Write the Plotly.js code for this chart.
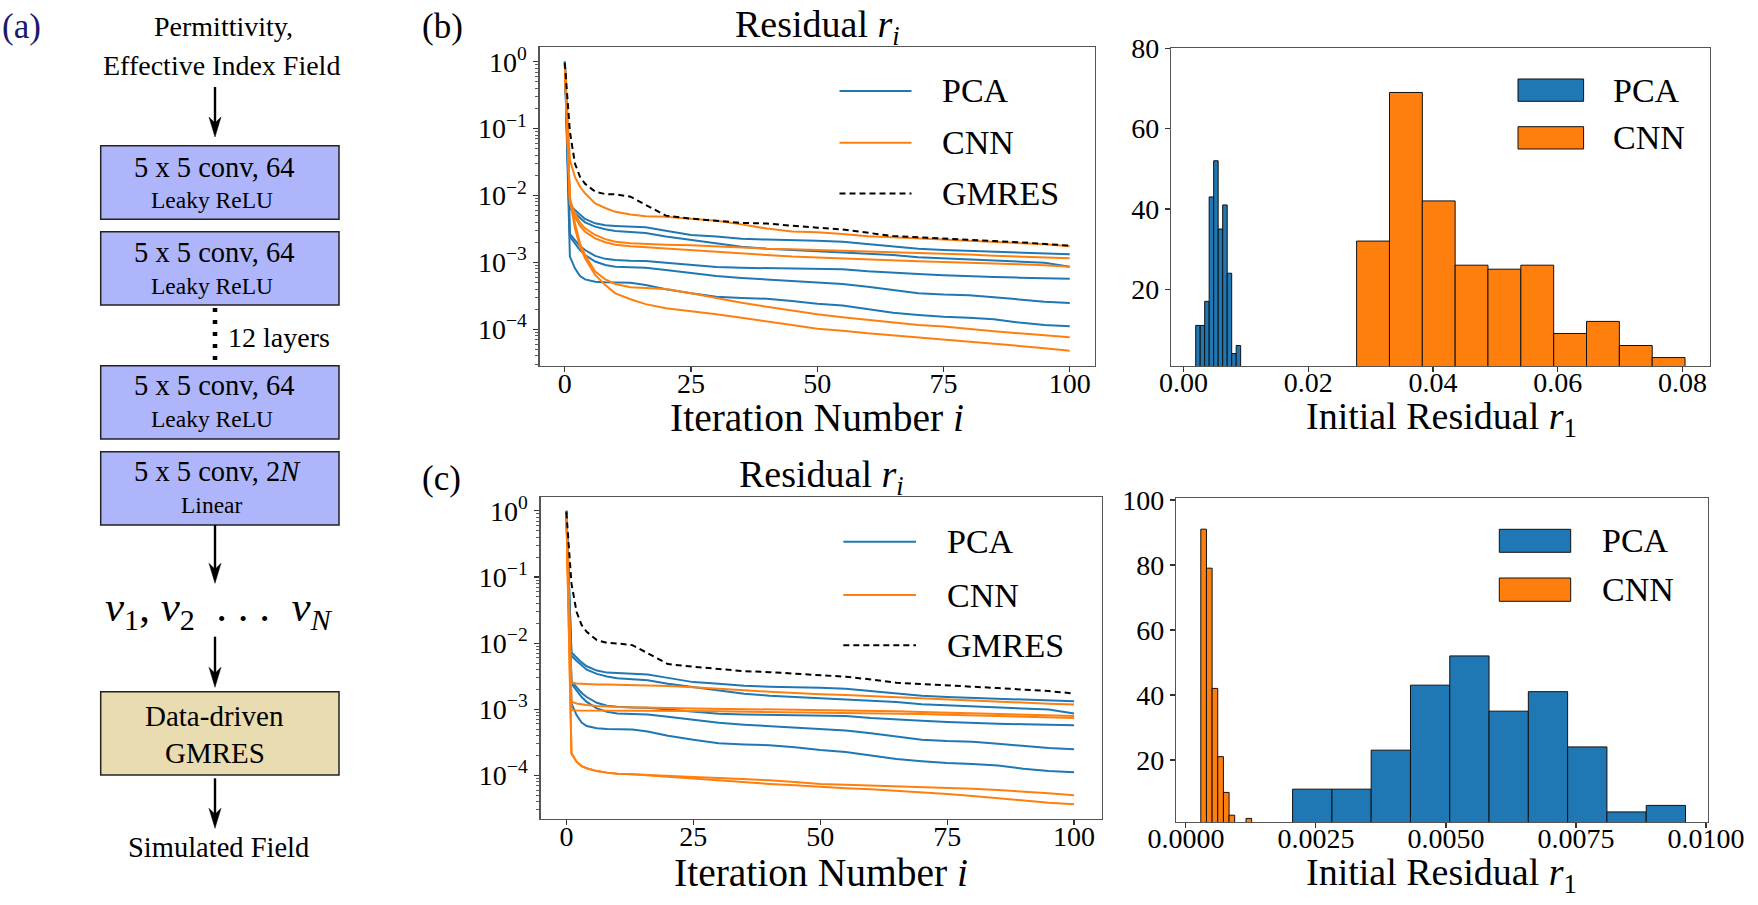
<!DOCTYPE html>
<html>
<head>
<meta charset="utf-8">
<script src="https://cdn.plot.ly/plotly-3.0.1.min.js"></script>
<style>
  html, body { margin: 0; padding: 0; background: #ffffff; }
  #fig { width: 1758px; height: 905px; }
</style>
</head>
<body>
<div id="fig"></div>
<script>
// ---------------- data ----------------
// iteration numbers at which residuals are tabulated
const iters = [0, 1, 2, 3, 4, 6, 8, 10, 13, 16, 20, 25, 30, 35, 40, 45, 50, 55, 60, 65, 70, 75, 80, 85, 90, 95, 100];

// PCA-preconditioned runs (same test samples in both rows)
const pcaRun1 = [1.0, 0.00721, 0.00607, 0.00511, 0.00446, 0.00384, 0.00358, 0.0035, 0.00342, 0.00334, 0.00298, 0.00257, 0.00243, 0.00226, 0.00219, 0.00216, 0.00211, 0.00204, 0.00188, 0.00172, 0.0016, 0.00153, 0.00148, 0.00145, 0.0014, 0.00137, 0.00132];
const pcaRun2 = [1.0, 0.00643, 0.00541, 0.00456, 0.00397, 0.00342, 0.00312, 0.00294, 0.00282, 0.00275, 0.00243, 0.00216, 0.00193, 0.00172, 0.0016, 0.00153, 0.00148, 0.00142, 0.00137, 0.00129, 0.00119, 0.00115, 0.00109, 0.00106, 0.00103, 0.000991, 0.000863];
const pcaRun3 = [1.0, 0.00266, 0.00216, 0.00176, 0.00153, 0.00125, 0.00113, 0.00109, 0.00106, 0.00105, 0.00099, 0.00092, 0.000855, 0.00083, 0.000816, 0.000805, 0.000795, 0.000789, 0.000737, 0.000695, 0.000672, 0.000642, 0.000619, 0.000605, 0.000592, 0.000585, 0.000571];
const pcaRun4 = [1.0, 0.00243, 0.00193, 0.00153, 0.00129, 0.00103, 0.000914, 0.000863, 0.000844, 0.000834, 0.000771, 0.000687, 0.000627, 0.000585, 0.000558, 0.000533, 0.000504, 0.000476, 0.000434, 0.000387, 0.000345, 0.00033, 0.000322, 0.000301, 0.000278, 0.000259, 0.000248];
const pcaRun5 = [1.0, 0.00122, 0.000816, 0.000627, 0.000558, 0.000515, 0.000504, 0.000504, 0.000495, 0.00046, 0.000396, 0.000345, 0.000307, 0.000294, 0.000286, 0.000265, 0.000241, 0.000226, 0.000198, 0.000177, 0.000164, 0.000154, 0.000149, 0.000141, 0.000126, 0.000116, 0.000111];

// CNN-preconditioned runs, row (b)
const cnnB1 = [0.9, 0.034, 0.019, 0.0135, 0.0108, 0.0076, 0.0065, 0.0057, 0.0052, 0.0049, 0.0048, 0.0045, 0.0042, 0.0037, 0.0032, 0.0029, 0.00282, 0.00266, 0.00246, 0.00237, 0.00226, 0.00219, 0.00211, 0.00204, 0.00195, 0.00186, 0.00174];
const cnnB2 = [0.9, 0.00857, 0.00541, 0.00393, 0.00323, 0.00257, 0.00223, 0.00204, 0.00193, 0.00188, 0.00184, 0.0018, 0.00172, 0.00166, 0.0016, 0.00157, 0.00153, 0.0015, 0.00147, 0.00143, 0.0014, 0.00135, 0.00131, 0.00126, 0.00122, 0.00119, 0.00115];
const cnnB3 = [0.9, 0.00764, 0.00483, 0.0035, 0.00288, 0.00229, 0.002, 0.00184, 0.00174, 0.00168, 0.0016, 0.00153, 0.00145, 0.00137, 0.00129, 0.00122, 0.00118, 0.00114, 0.00109, 0.00106, 0.00104, 0.00101, 0.000991, 0.000969, 0.000935, 0.000903, 0.000863];
const cnnB4 = [0.9, 0.0096, 0.00384, 0.00193, 0.00129, 0.000728, 0.000558, 0.000475, 0.000424, 0.00041, 0.000401, 0.000345, 0.000291, 0.00025, 0.000218, 0.00019, 0.000168, 0.000151, 0.000138, 0.000126, 0.000116, 0.00011, 0.0001, 0.0000933, 0.0000871, 0.0000813, 0.0000759];
const cnnB5 = [0.9, 0.00857, 0.00323, 0.00172, 0.00115, 0.000649, 0.00046, 0.000345, 0.000281, 0.000238, 0.000206, 0.000188, 0.000168, 0.000149, 0.00013, 0.000116, 0.000102, 0.0000955, 0.0000871, 0.0000813, 0.000075, 0.0000709, 0.0000654, 0.0000604, 0.0000564, 0.000052, 0.000048];
const gmresB = [0.95, 0.09, 0.030, 0.019, 0.015, 0.0114, 0.0105, 0.0104, 0.0096, 0.0072, 0.0050, 0.0045, 0.0042, 0.0039, 0.0038, 0.0035, 0.0033, 0.0031, 0.00279, 0.00248, 0.00237, 0.00229, 0.00216, 0.00209, 0.0020, 0.00188, 0.00178];

// CNN-preconditioned runs, row (c)
const cnnC1 = [0.9, 0.00251, 0.00245, 0.00242, 0.0024, 0.00237, 0.00236, 0.00234, 0.00232, 0.0023, 0.00225, 0.00215, 0.00202, 0.00193, 0.00184, 0.00175, 0.00169, 0.00164, 0.00158, 0.00151, 0.00144, 0.00139, 0.00134, 0.00128, 0.00124, 0.00121, 0.00118];
const cnnC2 = [0.9, 0.0013, 0.00122, 0.00118, 0.00116, 0.00112, 0.00109, 0.00108, 0.00107, 0.00105, 0.00104, 0.00103, 0.00102, 0.00101, 0.000994, 0.000982, 0.00097, 0.00096, 0.00095, 0.00093, 0.000906, 0.000885, 0.000865, 0.000845, 0.000826, 0.000806, 0.000788];
const cnnC3 = [0.9, 0.00097, 0.00096, 0.00096, 0.00096, 0.00096, 0.00095, 0.00095, 0.00095, 0.00095, 0.00094, 0.00094, 0.00093, 0.00092, 0.00092, 0.000906, 0.000896, 0.000885, 0.000875, 0.000865, 0.000845, 0.000826, 0.000806, 0.000788, 0.00077, 0.000753, 0.000735];
const cnnC4 = [0.9, 0.000215, 0.000161, 0.000138, 0.000128, 0.000116, 0.00011, 0.000106, 0.000104, 0.000101, 0.0000977, 0.0000944, 0.0000912, 0.0000881, 0.000084, 0.0000793, 0.000074, 0.0000723, 0.0000706, 0.000069, 0.0000674, 0.0000651, 0.0000629, 0.00006, 0.0000573, 0.0000535, 0.0000499];
const cnnC5 = [0.9, 0.000215, 0.000161, 0.000138, 0.000128, 0.000116, 0.00011, 0.000106, 0.000104, 0.0001, 0.0000955, 0.0000891, 0.0000831, 0.0000784, 0.000074, 0.0000706, 0.0000667, 0.0000637, 0.0000614, 0.0000586, 0.0000553, 0.0000522, 0.0000487, 0.0000449, 0.0000414, 0.0000386, 0.0000365];
const gmresC = [0.95, 0.08, 0.0298, 0.0187, 0.0148, 0.0111, 0.0101, 0.00989, 0.00933, 0.00698, 0.00482, 0.00439, 0.00405, 0.00377, 0.00364, 0.00348, 0.00328, 0.0031, 0.00282, 0.00251, 0.0024, 0.00232, 0.00219, 0.00209, 0.00199, 0.00188, 0.00173];

// initial-residual histograms: bin left edges, bin width, counts
const histB_pcaEdges = [0.00194, 0.00266, 0.00338, 0.00410, 0.00482, 0.00555, 0.00627, 0.00699, 0.00771, 0.00843];
const histB_pcaWidth = 0.000721;
const histB_pcaCounts = [11, 11, 17, 43, 52, 35, 41, 24, 4, 6];
const histB_cnnEdges = [0.02774, 0.03301, 0.03827, 0.04354, 0.04880, 0.05407, 0.05934, 0.06460, 0.06987, 0.07513];
const histB_cnnWidth = 0.005266;
const histB_cnnCounts = [32, 69, 42, 26, 25, 26, 9, 12, 6, 3];

const histC_pcaEdges = [0.002052, 0.002808, 0.003563, 0.004319, 0.005074, 0.00583, 0.006585, 0.007341, 0.008096, 0.008852];
const histC_pcaWidth = 0.0007555;
const histC_pcaCounts = [11, 11, 23, 43, 52, 35, 41, 24, 4, 6];
const histC_cnnEdges = [0.000287, 0.000396, 0.000504, 0.000613, 0.000722, 0.00083, 0.000939, 0.001048, 0.001156];
const histC_cnnWidth = 0.0001086;
const histC_cnnCounts = [91, 79, 42, 21, 10, 3, 0, 0, 2];

// tick labels
const logTickVals = [1e-4, 1e-3, 1e-2, 1e-1, 1];
const logTickText = ['10<sup>−4</sup>', '10<sup>−3</sup>', '10<sup>−2</sup>', '10<sup>−1</sup>', '10<sup>0</sup>'];
const iterTickVals = [0, 25, 50, 75, 100];
const legendNames = ['PCA', 'CNN', 'GMRES'];

// ---------------- styling ----------------
const W = 1758, H = 905;
const fx = p => p / W;          // page pixel -> paper x
const fy = p => 1 - p / H;      // page pixel -> paper y
const SERIF = 'Liberation Serif';
const BLUE = '#1f77b4', ORANGE = '#ff7f0e';
const SPINE = '#555555', TICK = '#333333';

const pcaRuns = [pcaRun1, pcaRun2, pcaRun3, pcaRun4, pcaRun5];
const cnnRunsB = [cnnB1, cnnB2, cnnB3, cnnB4, cnnB5];
const cnnRunsC = [cnnC1, cnnC2, cnnC3, cnnC4, cnnC5];

const traces = [];
function addLines(runs, color, xa, ya, dash) {
  runs.forEach(r => traces.push({
    type: 'scatter', mode: 'lines', x: iters, y: r,
    xaxis: xa, yaxis: ya, showlegend: false, hoverinfo: 'skip',
    line: { color: color, width: 2, dash: dash || 'solid' }
  }));
}
addLines(pcaRuns, BLUE, 'x', 'y');
addLines(cnnRunsB, ORANGE, 'x', 'y');
addLines([gmresB], '#000000', 'x', 'y', '6px,4px');
addLines(pcaRuns, BLUE, 'x2', 'y2');
addLines(cnnRunsC, ORANGE, 'x2', 'y2');
addLines([gmresC], '#000000', 'x2', 'y2', '6px,4px');

function addBars(edges, width, counts, color, xa, ya) {
  traces.push({
    type: 'bar', x: edges, y: counts, width: width, offset: 0,
    xaxis: xa, yaxis: ya, showlegend: false, hoverinfo: 'skip',
    marker: { color: color, line: { color: '#111111', width: 1 } }
  });
}
addBars(histB_pcaEdges, histB_pcaWidth, histB_pcaCounts, BLUE, 'x3', 'y3');
addBars(histB_cnnEdges, histB_cnnWidth, histB_cnnCounts, ORANGE, 'x3', 'y3');
addBars(histC_pcaEdges, histC_pcaWidth, histC_pcaCounts, BLUE, 'x4', 'y4');
addBars(histC_cnnEdges, histC_cnnWidth, histC_cnnCounts, ORANGE, 'x4', 'y4');

// minor ticks for the log axes
const minorLog = [];
for (let k = -5; k <= 0; k++) for (let m = 2; m <= 9; m++) minorLog.push(m * Math.pow(10, k));

const tickFont = { family: SERIF, size: 28, color: '#000000' };

function baseAxis(extra) {
  return Object.assign({
    showline: true, mirror: true, linecolor: SPINE, linewidth: 1.2,
    showgrid: false, zeroline: false,
    ticks: 'outside', ticklen: 5, tickwidth: 1.2, tickcolor: TICK,
    tickfont: tickFont, automargin: false
  }, extra);
}

const layout = {
  width: W, height: H,
  margin: { l: 0, r: 0, t: 0, b: 0, pad: 0 },
  paper_bgcolor: '#ffffff', plot_bgcolor: '#ffffff',
  font: { family: SERIF, color: '#000000', size: 28 },
  barmode: 'overlay',
  showlegend: false,
  xaxis: baseAxis({
    domain: [fx(539.6), fx(1095)], range: [-5, 105], anchor: 'y',
    tickmode: 'array', tickvals: iterTickVals, ticklabelstandoff: -13
  }),
  yaxis: baseAxis({
    type: 'log', domain: [fy(365.7), fy(46.7)], range: [-4.544, 0.224], anchor: 'x',
    tickmode: 'array', tickvals: logTickVals, ticktext: logTickText, ticklabelstandoff: 1,
    minor: { tickmode: 'array', tickvals: minorLog, ticks: 'outside', ticklen: 3, tickwidth: 0.8, tickcolor: TICK, showgrid: false }
  }),
  xaxis2: baseAxis({
    domain: [fx(540.5), fx(1102)], range: [-5.1, 105.5], anchor: 'y2',
    tickmode: 'array', tickvals: iterTickVals, ticklabelstandoff: -13
  }),
  yaxis2: baseAxis({
    type: 'log', domain: [fy(819), fy(497.3)], range: [-4.66, 0.205], anchor: 'x2',
    tickmode: 'array', tickvals: logTickVals, ticktext: logTickText, ticklabelstandoff: 1,
    minor: { tickmode: 'array', tickvals: minorLog, ticks: 'outside', ticklen: 3, tickwidth: 0.8, tickcolor: TICK, showgrid: false }
  }),
  xaxis3: baseAxis({
    domain: [fx(1171), fx(1710)], range: [-0.00202, 0.0844], anchor: 'y3',
    tickmode: 'array', tickvals: [0, 0.02, 0.04, 0.06, 0.08], tickformat: '.2f', ticklabelstandoff: -14
  }),
  yaxis3: baseAxis({
    domain: [fy(366), fy(48.3)], range: [0.9, 80], anchor: 'x3',
    tickmode: 'array', tickvals: [20, 40, 60, 80]
  }),
  xaxis4: baseAxis({
    domain: [fx(1176), fx(1708)], range: [-0.00019, 0.01004], anchor: 'y4',
    tickmode: 'array', tickvals: [0, 0.0025, 0.005, 0.0075, 0.01], tickformat: '.4f', ticklabelstandoff: -14
  }),
  yaxis4: baseAxis({
    domain: [fy(822), fy(498.3)], range: [0.9, 100.5], anchor: 'x4',
    tickmode: 'array', tickvals: [20, 40, 60, 80, 100]
  }),
  shapes: [],
  annotations: []
};

const shapes = layout.shapes, ann = layout.annotations;

function text(t, x, y, size, opts) {
  ann.push(Object.assign({
    xref: 'paper', yref: 'paper', x: fx(x), y: fy(y), text: t, showarrow: false,
    xanchor: 'center', yanchor: 'middle',
    font: { family: SERIF, size: size, color: '#000000' }
  }, opts || {}));
}

// ---------- network diagram (a) ----------
const LAV = '#aeb5fb', TAN = '#e8dcb0';
const boxes = [
  { y0: 145.7, y1: 219.3, fill: LAV, lines: [['5 x 5 conv, 64', 214, 167, 28.5], ['Leaky ReLU', 212, 200, 23.5]] },
  { y0: 231.7, y1: 305.0, fill: LAV, lines: [['5 x 5 conv, 64', 214, 252, 28.5], ['Leaky ReLU', 212, 286, 23.5]] },
  { y0: 365.7, y1: 439.0, fill: LAV, lines: [['5 x 5 conv, 64', 214, 386, 28.5], ['Leaky ReLU', 212, 419, 23.5]] },
  { y0: 451.7, y1: 525.0, fill: LAV, lines: [['5 x 5 conv, 2<i>N</i>', 217, 471.7, 28.5], ['Linear', 211, 505, 23.5]] },
  { y0: 691.7, y1: 775.0, fill: TAN, lines: [['Data-driven', 214, 716, 29], ['GMRES', 215, 753, 29]] }
];
boxes.forEach(b => {
  shapes.push({
    type: 'rect', xref: 'paper', yref: 'paper',
    x0: fx(100.7), x1: fx(339), y0: fy(b.y1), y1: fy(b.y0),
    fillcolor: b.fill, line: { color: '#222222', width: 1.5 }, layer: 'below'
  });
  b.lines.forEach(l => text(l[0], l[1], l[2], l[3]));
});

function arrow(cx, yTail, yTip) {
  shapes.push({
    type: 'line', xref: 'paper', yref: 'paper',
    x0: fx(cx), x1: fx(cx), y0: fy(yTail), y1: fy(yTip - 12),
    line: { color: '#000000', width: 2.4 }
  });
  const pts = [[cx, yTip], [cx - 6, yTip - 20], [cx, yTip - 14], [cx + 6, yTip - 20]];
  shapes.push({
    type: 'path', xref: 'paper', yref: 'paper',
    path: 'M' + pts.map(p => fx(p[0]).toFixed(6) + ',' + fy(p[1]).toFixed(6)).join(' L') + ' Z',
    fillcolor: '#000000', line: { color: '#000000', width: 0.5 }
  });
}
arrow(215, 87, 137);
arrow(215, 525, 583.3);
arrow(215, 636.7, 687.3);
arrow(215, 778.3, 828.3);

// dotted link standing for the repeated layers
shapes.push({
  type: 'line', xref: 'paper', yref: 'paper',
  x0: fx(215), x1: fx(215), y0: fy(308), y1: fy(364),
  line: { color: '#000000', width: 4.5, dash: '4px,8px' }
});
text('12 layers', 226, 337, 28, { xanchor: 'left' });

text('Permittivity,', 224, 27, 28);
text('Effective Index Field', 221, 65, 28);
text('<i>v</i><sub>1</sub>, <i>v</i><sub>2</sub>  . . .  <i>v</i><sub><i>N</i></sub>', 219, 610, 43);
text('Simulated Field', 218, 847, 28.5);

// panel labels
text('(a)', 21, 27, 35, { font: { family: SERIF, size: 35, color: '#1a1a6e' } });
text('(b)', 442, 27, 35);
text('(c)', 441, 478, 35);

// subplot titles
text('Residual <i>r</i><sub><i>i</i></sub>', 817, 27, 38);
text('Residual <i>r</i><sub><i>i</i></sub>', 821, 477, 38);

// axis titles
text('Iteration Number <i>i</i>', 817, 418, 39.5);
text('Iteration Number <i>i</i>', 821, 873, 39.5);
text('Initial Residual <i>r</i><sub>1</sub>', 1441, 419, 38);
text('Initial Residual <i>r</i><sub>1</sub>', 1441, 875, 38);

// ---------- hand-placed legends ----------
function lineLegend(x0, x1, xText, ys) {
  const styles = [
    { color: BLUE, width: 2, dash: 'solid' },
    { color: ORANGE, width: 2, dash: 'solid' },
    { color: '#000000', width: 2, dash: '6px,4px' }
  ];
  ys.forEach((y, k) => {
    shapes.push({ type: 'line', xref: 'paper', yref: 'paper', x0: fx(x0), x1: fx(x1), y0: fy(y), y1: fy(y), line: styles[k] });
    text(legendNames[k], xText, y, 34, { xanchor: 'left' });
  });
}
lineLegend(839.5, 911.5, 940, [91, 142.7, 193.5]);
lineLegend(843.3, 916, 945, [541.7, 595, 645.3]);

function patchLegend(x0, x1, xText, rows) {
  const fills = [BLUE, ORANGE];
  rows.forEach((r, k) => {
    shapes.push({
      type: 'rect', xref: 'paper', yref: 'paper', x0: fx(x0), x1: fx(x1), y0: fy(r[1]), y1: fy(r[0]),
      fillcolor: fills[k], line: { color: '#111111', width: 1 }
    });
    text(legendNames[k], xText, (r[0] + r[1]) / 2, 34, { xanchor: 'left' });
  });
}
patchLegend(1518, 1583.6, 1610.8, [[79, 101.3], [126.7, 149]]);
patchLegend(1499.3, 1570.7, 1599.7, [[529.3, 552.3], [578, 601.3]]);

Plotly.newPlot('fig', traces, layout, { displayModeBar: false, staticPlot: true });
</script>
</body>
</html>
